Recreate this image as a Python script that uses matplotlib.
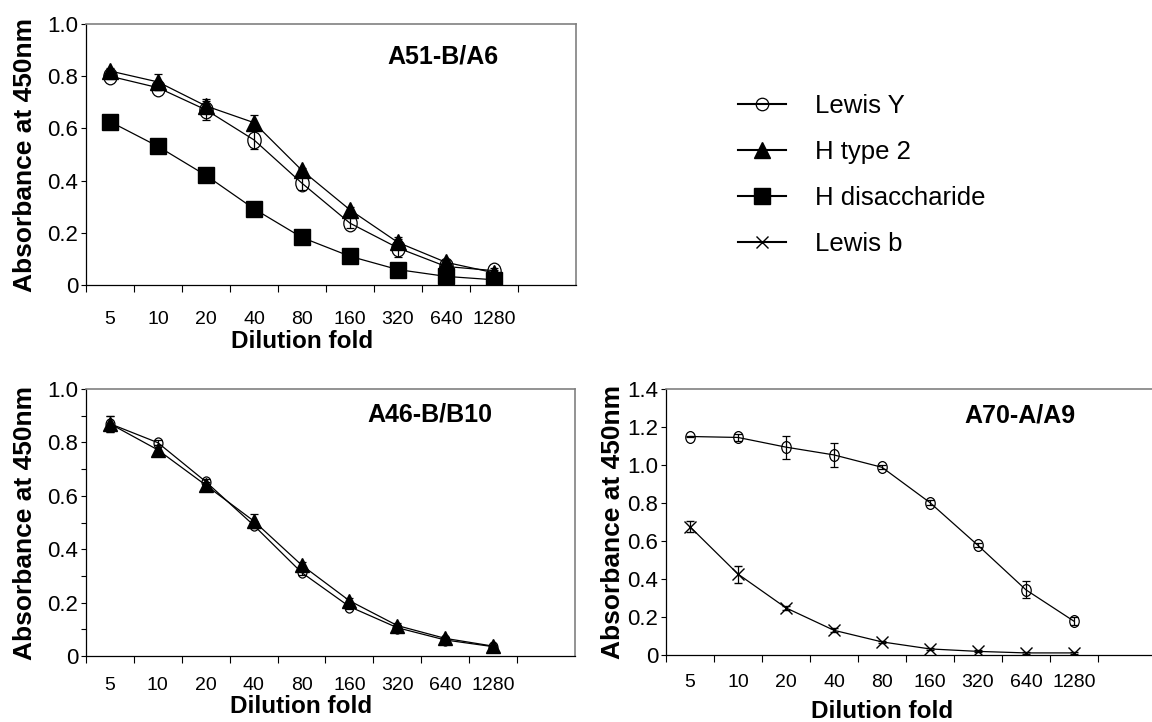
import numpy as np
import matplotlib
matplotlib.use("Agg")
import matplotlib.pyplot as plt
from matplotlib.path import Path
from matplotlib.transforms import Affine2D
from matplotlib.lines import Line2D

plt.rcParams['font.family'] = ['Liberation Sans', 'DejaVu Sans']

# Data
dilutions = ['5', '10', '20', '40', '80', '160', '320', '640', '1280']

# A51-B/A6
a51_lewis_y = [0.80, 0.756, 0.671, 0.556, 0.390, 0.237, 0.142, 0.071, 0.055]
a51_lewis_y_err = [0.01, 0.01, 0.04, 0.035, 0.025, 0.02, 0.035, 0.01, 0.01]
a51_h_type2 = [0.82, 0.778, 0.686, 0.622, 0.439, 0.288, 0.163, 0.087, 0.047]
a51_h_type2_err = [0.01, 0.03, 0.02, 0.03, 0.01, 0.01, 0.02, 0.01, 0.01]
a51_h_disacch = [0.626, 0.531, 0.42, 0.292, 0.182, 0.11, 0.059, 0.033, 0.02]
a51_h_disacch_err = [0.01, 0.01, 0.01, 0.01, 0.01, 0.01, 0.01, 0.01, 0.01]

# A46-B/B10
a46_lewis_y = [0.87, 0.799, 0.653, 0.49, 0.313, 0.185, 0.106, 0.06, 0.035]
a46_lewis_y_err = [0.03, 0.01, 0.01, 0.01, 0.01, 0.01, 0.01, 0.005, 0.005]
a46_h_type2 = [0.87, 0.772, 0.64, 0.506, 0.341, 0.207, 0.114, 0.066, 0.037]
a46_h_type2_err = [0.03, 0.02, 0.01, 0.025, 0.01, 0.01, 0.01, 0.005, 0.005]

# A70-A/A9
a70_lewis_y = [1.150, 1.145, 1.094, 1.053, 0.988, 0.802, 0.577, 0.343, 0.178]
a70_lewis_y_err = [0.005, 0.02, 0.06, 0.065, 0.01, 0.015, 0.01, 0.045, 0.02]
a70_lewis_b = [0.675, 0.426, 0.248, 0.13, 0.069, 0.032, 0.019, 0.011, 0.011]
a70_lewis_b_err = [0.03, 0.045, 0.01, 0.01, 0.005, 0.005, 0.005, 0.005, 0.005]

series_labels = ['Lewis Y', 'H type 2', 'H disaccharide', 'Lewis b']

# slightly tall ellipse for the open circles
ellipse = Path.unit_circle().transformed(Affine2D().scale(1, 1.25))

styles = {
    'Lewis Y': dict(marker=ellipse, markersize=12, mfc='none', mec='black', mew=0.9),
    'H type 2': dict(marker='^', markersize=11, mfc='black', mec='black'),
    'H disaccharide': dict(marker='s', markersize=11, mfc='black', mec='black'),
    'Lewis b': dict(marker='x', markersize=8, mec='black', mew=1.0),
}

x = np.arange(len(dilutions))

fig = plt.figure(figsize=(11.52, 7.22), dpi=100)
W, H = 1152, 722


def make_ax(left, right, top, bottom):
    return fig.add_axes([left / W, 1 - bottom / H, (right - left) / W, (bottom - top) / H])


def setup(ax, ymax, title, title_pos, tickpad, minor_y=False, ylab_x=-0.1, xlabpad=1):
    ax.set_xlim(-0.5, 9.71)
    ax.set_ylim(0, ymax)
    ax.set_xticks(x)
    ax.set_xticklabels(dilutions, fontsize=14)
    ax.set_xticks(np.arange(-0.5, 9.0, 1.0), minor=True)
    ax.tick_params(axis='x', which='major', length=0, pad=tickpad)
    ax.tick_params(axis='x', which='minor', length=5, width=0.8, direction='out')
    yt = np.round(np.arange(0, ymax + 0.001, 0.2), 1)
    ax.set_yticks(yt)
    ax.set_yticklabels(['0'] + ['%.1f' % v for v in yt[1:]], fontsize=16)
    ax.tick_params(axis='y', which='major', length=3.5, width=0.8, pad=2)
    if minor_y:
        ax.set_yticks(np.arange(0.1, ymax, 0.2), minor=True)
        ax.tick_params(axis='y', which='minor', length=3.5, width=0.8)
    for s in ['left', 'bottom']:
        ax.spines[s].set_color('black')
        ax.spines[s].set_linewidth(0.9)
    for s in ['top', 'right']:
        ax.spines[s].set_color('#808080')
        ax.spines[s].set_linewidth(1.2)
    ax.set_xlabel('Dilution fold', fontsize=17.5, fontweight='bold', labelpad=xlabpad)
    # centre the x label under the nine categories, not the whole frame
    ax.xaxis.label.set_x(0.44)
    ax.set_ylabel('Absorbance at 450nm', fontsize=19, fontweight='bold')
    ax.yaxis.set_label_coords(ylab_x, 0.5)
    ax.text(title_pos[0], title_pos[1], title, transform=ax.transAxes,
            ha='right', va='center', fontsize=18, fontweight='bold')


def plot_series(ax, y, err, name, ms=None):
    st = dict(styles[name])
    if ms is not None:
        st['markersize'] = ms
    ax.errorbar(x, y, yerr=err, color='black', lw=0.9, elinewidth=0.9,
                capsize=3, capthick=0.9, **st)


# top-left panel
ax1 = make_ax(86, 576, 24, 285)
plot_series(ax1, a51_h_disacch, a51_h_disacch_err, 'H disaccharide')
plot_series(ax1, a51_lewis_y, a51_lewis_y_err, 'Lewis Y')
plot_series(ax1, a51_h_type2, a51_h_type2_err, 'H type 2')
setup(ax1, 1.0, 'A51-B/A6', (0.841, 0.874), tickpad=19)

# bottom-left panel
ax2 = make_ax(86, 575, 389, 656)
plot_series(ax2, a46_lewis_y, a46_lewis_y_err, 'Lewis Y', ms=8)
plot_series(ax2, a46_h_type2, a46_h_type2_err, 'H type 2', ms=10)
setup(ax2, 1.0, 'A46-B/B10', (0.831, 0.903), tickpad=15, minor_y=True)

# bottom-right panel
ax3 = make_ax(666, 1156, 389, 655)
plot_series(ax3, a70_lewis_y, a70_lewis_y_err, 'Lewis Y', ms=8.5)
plot_series(ax3, a70_lewis_b, a70_lewis_b_err, 'Lewis b')
setup(ax3, 1.4, 'A70-A/A9', (0.835, 0.902), tickpad=14, ylab_x=-0.084, xlabpad=6)

# legend
handles = []
for n in series_labels:
    st = dict(styles[n])
    if n == 'Lewis Y':
        st['marker'] = 'o'
        st['markersize'] = 9
    handles.append(Line2D([], [], color='black', lw=1.5, **st))
fig.legend(handles, series_labels, loc='upper left', bbox_to_anchor=(738 / W, 1 - 94 / H),
           frameon=False, fontsize=18.5, handlelength=1.85, handletextpad=1.15,
           labelspacing=0.85, borderpad=0, borderaxespad=0)

fig.savefig('out.png', dpi=100)
